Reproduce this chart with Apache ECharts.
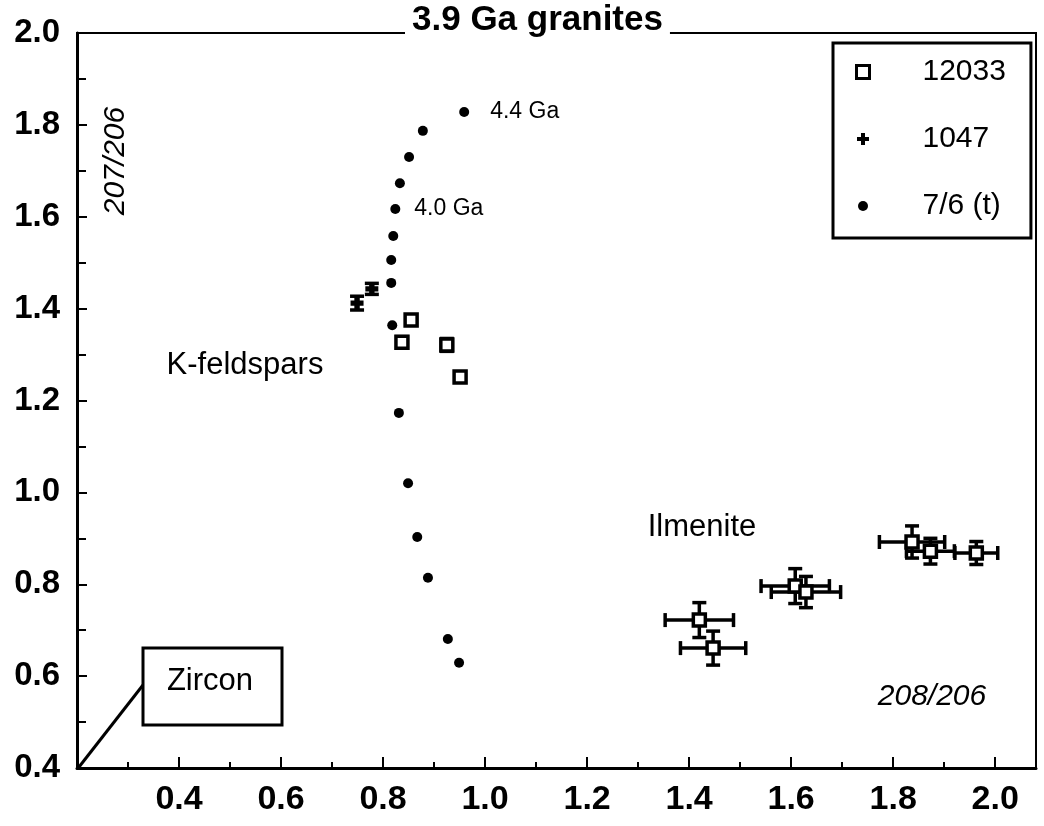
<!DOCTYPE html>
<html>
<head>
<meta charset="utf-8">
<title>3.9 Ga granites</title>
<script src="https://cdn.jsdelivr.net/npm/echarts@6/dist/echarts.min.js"></script>
<style>
  html, body { margin: 0; padding: 0; background: #fff; }
  #chart { width: 1044px; height: 826px; }
</style>
</head>
<body>
<div id="chart"></div>
<script>
// values (x = 208/206, y = 207/206)
const xTickLabels = ['0.4', '0.6', '0.8', '1.0', '1.2', '1.4', '1.6', '1.8', '2.0'];
const yTickLabels = ['0.4', '0.6', '0.8', '1.0', '1.2', '1.4', '1.6', '1.8', '2.0'];

// 7/6 (t) growth curve
const dotX = [0.959, 0.878, 0.851, 0.833, 0.824, 0.820, 0.816, 0.816, 0.818, 0.831, 0.849, 0.867, 0.888, 0.927, 0.949];
const dotY = [1.828, 1.787, 1.730, 1.673, 1.617, 1.558, 1.506, 1.456, 1.364, 1.173, 1.020, 0.903, 0.814, 0.681, 0.629];
const dotLabels = ['4.4 Ga', '', '', '', '4.0 Ga', '', '', '', '', '', '', '', '', '', ''];

// 12033 K-feldspars
const kfX = [0.855, 0.837, 0.925, 0.951];
const kfY = [1.375, 1.327, 1.321, 1.251];
const kfYErr = [0, 0.012, 0.014, 0];

// 1047 K-feldspars
const k1047X = [0.749, 0.778];
const k1047Y = [1.412, 1.443];
const k1047YErr = [0.015, 0.012];

// 12033 ilmenite
const ilmX = [1.420, 1.447, 1.608, 1.629, 1.837, 1.873, 1.963];
const ilmY = [0.722, 0.661, 0.796, 0.783, 0.892, 0.872, 0.868];
const ilmXErr = [0.067, 0.064, 0.067, 0.068, 0.064, 0.047, 0.042];
const ilmYErr = [0.038, 0.037, 0.038, 0.034, 0.035, 0.028, 0.025];

const FONT = '"Liberation Sans", Arial, Helvetica, sans-serif';

const plusSymbol = 'path://M3.5,0H8.5V3.5H12V8.5H8.5V12H3.5V8.5H0V3.5H3.5Z';
// legend icons padded to the same box so they keep their relative size
const plusIcon = 'path://M0,0M13,13M4.5,0.5H8.5V4.5H12.5V8.5H8.5V12.5H4.5V8.5H0.5V4.5H4.5Z';
const dotIcon = 'path://M0,0M13,13M1.5,6.5A5,5,0,1,0,11.5,6.5A5,5,0,1,0,1.5,6.5Z';

const errData = []
  .concat(ilmX.map((x, i) => [x, ilmY[i], ilmXErr[i], ilmYErr[i]]))
  .concat(kfX.map((x, i) => [x, kfY[i], 0, kfYErr[i]]))
  .concat(k1047X.map((x, i) => [x, k1047Y[i], 0, k1047YErr[i]]));

function renderErrorBars(params, api) {
  const x = api.value(0), y = api.value(1), xe = api.value(2), ye = api.value(3);
  const cap = 7;
  const style = { stroke: '#000', lineWidth: 3.5 };
  const children = [];
  if (xe > 0) {
    const l = api.coord([x - xe, y]);
    const r = api.coord([x + xe, y]);
    children.push({ type: 'line', shape: { x1: l[0], y1: l[1], x2: r[0], y2: r[1] }, style });
    children.push({ type: 'line', shape: { x1: l[0], y1: l[1] - cap, x2: l[0], y2: l[1] + cap }, style });
    children.push({ type: 'line', shape: { x1: r[0], y1: r[1] - cap, x2: r[0], y2: r[1] + cap }, style });
  }
  if (ye > 0) {
    const t = api.coord([x, y + ye]);
    const b = api.coord([x, y - ye]);
    children.push({ type: 'line', shape: { x1: t[0], y1: t[1], x2: b[0], y2: b[1] }, style });
    children.push({ type: 'line', shape: { x1: t[0] - cap, y1: t[1], x2: t[0] + cap, y2: t[1] }, style });
    children.push({ type: 'line', shape: { x1: b[0] - cap, y1: b[1], x2: b[0] + cap, y2: b[1] }, style });
  }
  return { type: 'group', children };
}

const squareStyle = { color: '#fff', borderColor: '#000', borderWidth: 3.5, opacity: 1 };

const chart = echarts.init(document.getElementById('chart'));

const option = {
  backgroundColor: '#fff',
  animation: false,
  title: {
    text: '3.9 Ga granites',
    left: 405,
    top: 0,
    padding: [2, 7],
    backgroundColor: '#fff',
    textStyle: { fontFamily: FONT, fontSize: 35, fontWeight: 'bold', color: '#000', lineHeight: 36 }
  },
  legend: {
    orient: 'vertical',
    left: 833,
    top: 43,
    padding: [14, 25, 17, 22],
    borderColor: '#000',
    borderWidth: 3,
    itemWidth: 13,
    itemHeight: 13,
    itemGap: 37,
    formatter: '{t|{name}}',
    textStyle: {
      color: '#000',
      rich: { t: { fontFamily: FONT, fontSize: 30, lineHeight: 30, color: '#000', padding: [0, 0, 0, 48] } }
    },
    data: [
      { name: '12033', itemStyle: { color: '#fff', borderColor: '#000', borderWidth: 3 } },
      { name: '1047', icon: plusIcon },
      { name: '7/6 (t)', icon: dotIcon }
    ]
  },
  grid: {
    left: 77,
    right: 8,
    top: 33,
    bottom: 58,
    show: true,
    borderColor: '#000',
    borderWidth: 2
  },
  xAxis: {
    type: 'value',
    min: 0.2,
    max: 2.08,
    interval: 0.2,
    axisLine: { lineStyle: { color: '#000', width: 3 } },
    axisTick: { inside: true, length: 11, lineStyle: { color: '#000', width: 2 } },
    minorTick: { show: true, splitNumber: 2, length: 6, lineStyle: { color: '#000', width: 2 } },
    splitLine: { show: false },
    axisLabel: {
      margin: 15,
      fontFamily: FONT,
      fontSize: 34,
      fontWeight: 'bold',
      color: '#000',
      formatter: v => {
        const s = v.toFixed(1);
        return xTickLabels.includes(s) && Math.abs(v - Number(s)) < 1e-6 ? s : '';
      }
    }
  },
  yAxis: {
    type: 'value',
    min: 0.4,
    max: 2.0,
    interval: 0.2,
    axisLine: { lineStyle: { color: '#000', width: 3 } },
    axisTick: { inside: true, length: 10, lineStyle: { color: '#000', width: 2 } },
    minorTick: { show: true, splitNumber: 2, length: 9, lineStyle: { color: '#000', width: 2 } },
    splitLine: { show: false },
    axisLabel: {
      margin: 17,
      fontFamily: FONT,
      fontSize: 33,
      fontWeight: 'bold',
      color: '#000',
      formatter: v => {
        const s = v.toFixed(1);
        return yTickLabels.includes(s) ? s : '';
      }
    }
  },
  series: [
    {
      name: 'error bars',
      type: 'custom',
      renderItem: renderErrorBars,
      encode: { x: 0, y: 1 },
      data: errData,
      z: 2,
      silent: true
    },
    {
      name: '12033',
      type: 'scatter',
      symbol: 'rect',
      symbolSize: 12,
      itemStyle: squareStyle,
      data: ilmX.map((x, i) => [x, ilmY[i]]),
      z: 3
    },
    {
      name: '12033',
      type: 'scatter',
      symbol: 'rect',
      symbolSize: 12,
      itemStyle: squareStyle,
      data: kfX.map((x, i) => [x, kfY[i]]),
      z: 3
    },
    {
      name: '1047',
      type: 'scatter',
      symbol: plusSymbol,
      symbolSize: 13,
      itemStyle: { color: '#000', opacity: 1 },
      data: k1047X.map((x, i) => [x, k1047Y[i]]),
      z: 3
    },
    {
      name: '7/6 (t)',
      type: 'scatter',
      symbol: 'circle',
      symbolSize: 10,
      itemStyle: { color: '#000', opacity: 1 },
      label: {
        show: true,
        position: 'right',
        formatter: '{b}',
        fontFamily: FONT,
        fontSize: 23,
        color: '#000'
      },
      data: dotX.map((x, i) => ({
        name: dotLabels[i],
        value: [x, dotY[i]],
        label: { distance: i === 0 ? 21 : 14 }
      })),
      z: 3
    }
  ],
  graphic: [
    {
      type: 'text',
      x: 116,
      y: 161,
      rotation: Math.PI / 2,
      style: { text: '207/206', fontFamily: FONT, fontSize: 30, fontStyle: 'italic', fill: '#000', align: 'center', verticalAlign: 'middle' }
    },
    {
      type: 'text',
      x: 932,
      y: 697,
      style: { text: '208/206', fontFamily: FONT, fontSize: 30, fontStyle: 'italic', fill: '#000', align: 'center', verticalAlign: 'middle' }
    },
    {
      type: 'text',
      x: 245,
      y: 365,
      style: { text: 'K-feldspars', fontFamily: FONT, fontSize: 31, fill: '#000', align: 'center', verticalAlign: 'middle' }
    },
    {
      type: 'text',
      x: 702,
      y: 527,
      style: { text: 'Ilmenite', fontFamily: FONT, fontSize: 31, fill: '#000', align: 'center', verticalAlign: 'middle' }
    },
    {
      type: 'line',
      shape: { x1: 79, y1: 767, x2: 143, y2: 685 },
      style: { stroke: '#000', lineWidth: 3 }
    },
    {
      type: 'rect',
      shape: { x: 143, y: 648, width: 139, height: 77 },
      style: { fill: '#fff', stroke: '#000', lineWidth: 3 }
    },
    {
      type: 'text',
      x: 210,
      y: 681,
      style: { text: 'Zircon', fontFamily: FONT, fontSize: 31, fill: '#000', align: 'center', verticalAlign: 'middle' }
    }
  ]
};

chart.setOption(option);
window.addEventListener('resize', () => chart.resize());
</script>
</body>
</html>
